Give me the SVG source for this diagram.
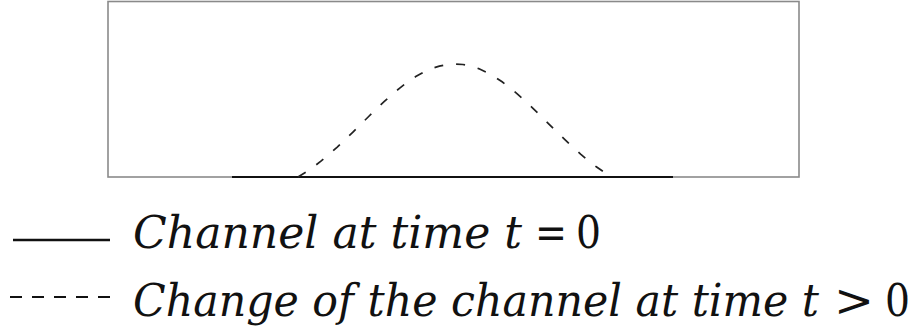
<svg xmlns="http://www.w3.org/2000/svg" width="914" height="334" viewBox="0 0 914 334">
<style>
.box{fill:none;stroke:#8a8a8a;stroke-width:1.6}
.base{stroke:#111;stroke-width:2.2}
.dash{fill:none;stroke:#222;stroke-width:1.7;stroke-dasharray:9 13}
.ldash{stroke:#111;stroke-width:2;stroke-dasharray:12 10}
.lsolid{stroke:#111;stroke-width:2.4}
.t{font-family:'DejaVu Serif',serif;font-size:45px;font-style:italic;fill:#111}
.m{font-style:normal}
</style>
<g id="channel-box">
<rect class="box" x="108" y="1.5" width="691" height="175.5"/>
<line class="base" x1="232" y1="177" x2="673" y2="177"/>
</g>
<g id="connectors">
<path class="dash" d="M298,177 L305.85,172.2 L313.7,166.8 L321.55,160.7 L329.4,154.1 L337.25,147.1 L345.1,139.7 L352.95,132.1 L360.8,124.3 L368.65,116.5 L376.5,108.8 L384.35,101.4 L392.2,94.3 L400.05,87.8 L407.9,81.8 L415.75,76.6 L423.6,72.2 L431.45,68.6 L439.3,66.1 L447.15,64.5 L455,64 L462.85,64.5 L470.7,66.1 L478.55,68.6 L486.4,72.2 L494.25,76.6 L502.1,81.8 L509.95,87.8 L517.8,94.3 L525.65,101.4 L533.5,108.8 L541.35,116.5 L549.2,124.3 L557.05,132.1 L564.9,139.7 L572.75,147.1 L580.6,154.1 L588.45,160.7 L596.3,166.8 L604.15,172.2 L612,177"/>
</g>
<g id="legend">
<line class="lsolid" x1="13" y1="240" x2="110" y2="240"/>
<text class="t" y="248"><tspan x="133" textLength="389" lengthAdjust="spacingAndGlyphs">Channel at time t</tspan><tspan class="m" x="535" textLength="32" lengthAdjust="spacingAndGlyphs">=</tspan><tspan class="m" x="576" textLength="25" lengthAdjust="spacingAndGlyphs">0</tspan></text>
<line class="ldash" x1="10" y1="297" x2="110" y2="297"/>
<text class="t" y="316"><tspan x="133" textLength="686" lengthAdjust="spacingAndGlyphs">Change of the channel at time t</tspan><tspan class="m" x="834" textLength="40" lengthAdjust="spacingAndGlyphs">&gt;</tspan><tspan class="m" x="885" textLength="25" lengthAdjust="spacingAndGlyphs">0</tspan></text>
</g>
</svg>
